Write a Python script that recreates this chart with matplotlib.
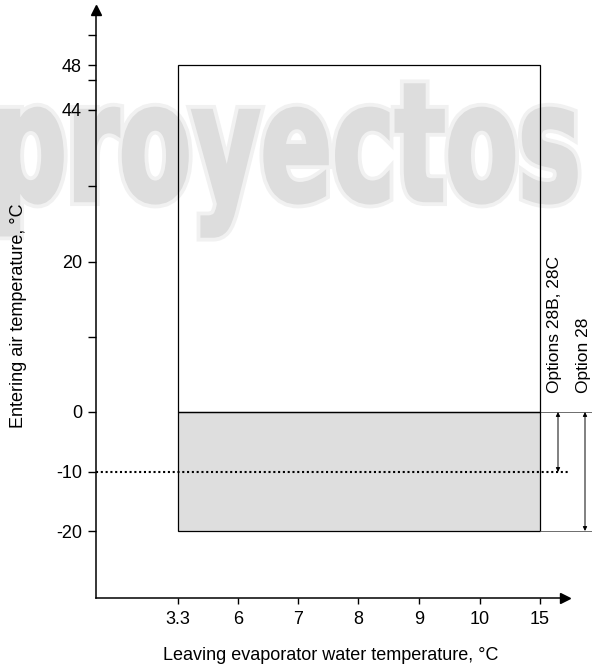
import numpy as np
import matplotlib
matplotlib.use('Agg')
import matplotlib.pyplot as plt
import matplotlib.patheffects as pe
from matplotlib.patches import Rectangle, PathPatch
from matplotlib.textpath import TextPath
from matplotlib.font_manager import FontProperties
from matplotlib.transforms import Affine2D
from matplotlib.ticker import NullLocator

plt.rcParams['font.family'] = ['Liberation Sans', 'DejaVu Sans']

# axis ticks (the drawing is not to scale, so each tick has its own pixel spot)
x_ticks = [3.3, 6, 7, 8, 9, 10, 15]
x_tick_px = [178, 238, 298, 358, 419, 480, 540]
y_ticks = [-20, -10, 0, 20, 44, 48]
y_tick_px = [531, 472, 412, 262, 110, 65]
y_minor = [10, 32, 46.7, 50.7]

# operating envelope
water_range = [3.3, 15]
air_max = 48
air_min_std = 0
air_min_28bc = -10
air_min_28 = -20

# annotation spots right of the envelope
arrow_x = [16.5, 18.75]
label_x = [16.25, 18.6]
option_labels = ['Options 28B, 28C', 'Option 28']


def piecewise(vals, pos):
    vals = np.asarray(vals, float)
    pos = np.asarray(pos, float)

    def make(a, b):
        def f(v):
            v = np.asarray(v, float)
            out = np.interp(v, a, b)
            lo = b[0] + (v - a[0]) * (b[1] - b[0]) / (a[1] - a[0])
            hi = b[-1] + (v - a[-1]) * (b[-1] - b[-2]) / (a[-1] - a[-2])
            out = np.where(v < a[0], lo, out)
            out = np.where(v > a[-1], hi, out)
            return out
        return f
    return make(vals, pos), make(pos, vals)


W, H = 592, 668
fig = plt.figure(figsize=(W / 100, H / 100), dpi=100)
ax = fig.add_axes([96 / W, 70 / H, 469 / W, 588 / H])
ax.patch.set_visible(False)

xf, xi = piecewise(x_ticks, x_tick_px)
yf, yi = piecewise(y_ticks, [-p for p in y_tick_px])
ax.set_xscale('function', functions=(xf, xi))
ax.set_yscale('function', functions=(yf, yi))
ax.set_xlim(float(xi(96)), float(xi(565)))
ax.set_ylim(float(yi(-598)), float(yi(-10)))

# watermark
fp = FontProperties(family=['Liberation Sans Narrow', 'DejaVu Sans'], weight='bold')
tp = TextPath((0, 0), 'proyectos', size=1, prop=fp)
bb = tp.get_extents()
wx0, wx1, wtop, wbot = 0, 576, 85, 236
tr = (Affine2D().translate(-bb.x0, -bb.y0)
      .scale((wx1 - wx0) / bb.width / W, (wbot - wtop) / bb.height / H)
      .translate(wx0 / W, (H - wbot) / H) + fig.transFigure)
wm = PathPatch(tp, transform=tr, facecolor='#dddddd', edgecolor='none', zorder=-5)
wm.set_path_effects([pe.Stroke(linewidth=8, foreground='#f1f1f1'),
                     pe.Stroke(linewidth=2.5, foreground='#dddddd'), pe.Normal()])
fig.add_artist(wm)

# envelope
ax.add_patch(Rectangle((water_range[0], air_min_std), water_range[1] - water_range[0],
                       air_max - air_min_std, facecolor='none', edgecolor='k', lw=0.9, zorder=3))
ax.add_patch(Rectangle((water_range[0], air_min_28), water_range[1] - water_range[0],
                       air_min_std - air_min_28, facecolor='#dedede', edgecolor='k', lw=0.9, zorder=2))

x_edge = float(xi(600))
for yv in [air_min_std, air_min_28]:
    ax.plot([water_range[1], x_edge], [yv, yv], color='#555555', lw=0.6, clip_on=False)
ax.plot([ax.get_xlim()[0], float(xi(569))], [air_min_28bc, air_min_28bc], color='k',
        lw=1.5, ls=(0, (1, 1.3)), clip_on=False, zorder=4)

for xa, ylo, xl, lab in zip(arrow_x, [air_min_28bc, air_min_28], label_x, option_labels):
    ax.annotate('', xy=(xa, ylo), xytext=(xa, air_min_std), annotation_clip=False,
                arrowprops=dict(arrowstyle='<|-|>', color='k', lw=0.7, mutation_scale=6,
                                shrinkA=0, shrinkB=0))
    ax.text(xl, 2.5, lab, rotation=90, ha='center', va='bottom', fontsize=12.5, clip_on=False)

# axes
for s in ['top', 'right']:
    ax.spines[s].set_visible(False)
for s in ['left', 'bottom']:
    ax.spines[s].set_linewidth(1.1)
ax.plot(1, 0, marker='>', color='k', ms=7, transform=ax.transAxes, clip_on=False)
ax.plot(0, 1, marker='^', color='k', ms=7, transform=ax.transAxes, clip_on=False)

ax.set_xticks(x_ticks)
ax.set_xticklabels(['{:g}'.format(v) for v in x_ticks])
ax.xaxis.set_minor_locator(NullLocator())
ax.set_yticks(y_ticks)
ax.set_yticklabels(['{:g}'.format(v) for v in y_ticks])
ax.set_yticks(y_minor, minor=True)
ax.tick_params(axis='x', length=4, width=1, pad=5, labelsize=13)
ax.tick_params(axis='y', which='both', length=6, width=1, pad=4, labelsize=13)

fig.text(331 / W, 1 - 656 / H, 'Leaving evaporator water temperature, °C',
         ha='center', va='center', fontsize=13)
fig.text(19 / W, 1 - 316 / H, 'Entering air temperature, °C', rotation=90,
         ha='center', va='center', fontsize=13)

fig.savefig('out.png', dpi=100)
